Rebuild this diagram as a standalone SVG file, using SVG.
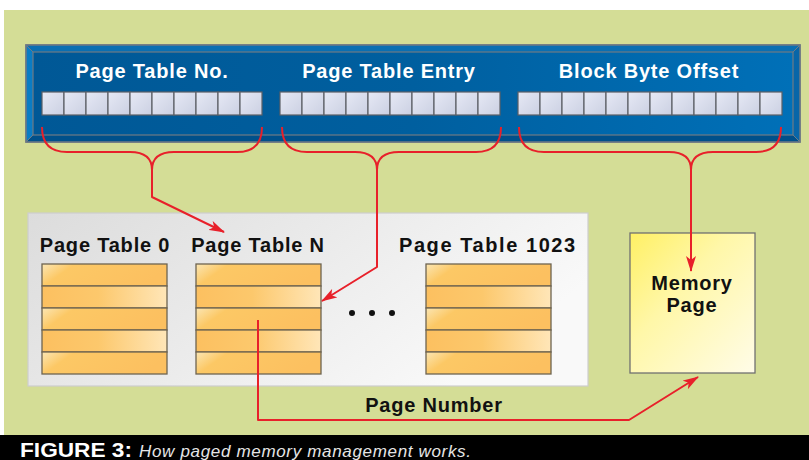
<svg xmlns="http://www.w3.org/2000/svg" width="809" height="460" viewBox="0 0 809 460">
  <defs>
    <style>
      .hdr { font-family: "Liberation Sans", Arial, sans-serif; font-weight: bold; font-size: 20px; fill: #ffffff; letter-spacing: 0.8px; }
      .lbl { font-family: "Liberation Sans", Arial, sans-serif; font-weight: bold; font-size: 20px; fill: #111111; letter-spacing: 0.8px; }
      .cell { fill: url(#cellGrad); stroke: #5c5f66; stroke-width: 1.2; }
      .rowA { fill: url(#rowAGrad); stroke: #6e6450; stroke-width: 1.3; }
      .rowB { fill: url(#rowBGrad); stroke: #6e6450; stroke-width: 1.3; }
      .wire { fill: none; stroke: #e8202a; stroke-width: 2; stroke-linejoin: round; }
      .arrow { fill: none; stroke: #e8202a; stroke-width: 2; stroke-linejoin: round; marker-end: url(#head); }
    </style>
    <linearGradient id="blueGrad" x1="0" y1="0" x2="1" y2="0">
      <stop offset="0" stop-color="#005896"/>
      <stop offset="0.5" stop-color="#005f9f"/>
      <stop offset="1" stop-color="#0070b8"/>
    </linearGradient>
    <linearGradient id="cellGrad" x1="0" y1="0" x2="1" y2="1">
      <stop offset="0" stop-color="#e6e9f5"/>
      <stop offset="1" stop-color="#cbd0e2"/>
    </linearGradient>
    <linearGradient id="rowAGrad" x1="0" y1="0" x2="1" y2="0.25">
      <stop offset="0" stop-color="#fbe6b4"/>
      <stop offset="0.25" stop-color="#fcc865"/>
      <stop offset="1" stop-color="#fcc060"/>
    </linearGradient>
    <linearGradient id="rowBGrad" x1="0" y1="0" x2="1" y2="0">
      <stop offset="0" stop-color="#fcc060"/>
      <stop offset="0.45" stop-color="#fcc86c"/>
      <stop offset="1" stop-color="#ffe6b8"/>
    </linearGradient>
    <linearGradient id="panelGrad" x1="0" y1="0" x2="1" y2="0.4">
      <stop offset="0" stop-color="#dcdcdc"/>
      <stop offset="1" stop-color="#f9f9f9"/>
    </linearGradient>
    <linearGradient id="memGrad" x1="0" y1="0" x2="1" y2="1">
      <stop offset="0" stop-color="#fff064"/>
      <stop offset="0.4" stop-color="#fff7a8"/>
      <stop offset="1" stop-color="#fffce8"/>
    </linearGradient>
    <marker id="head" viewBox="0 0 16 10" refX="15" refY="5" markerWidth="16" markerHeight="10" markerUnits="userSpaceOnUse" orient="auto">
      <path d="M0,0 L16,5 L0,10 L4,5 Z" fill="#e8202a"/>
    </marker>
  </defs>

  <!-- page background -->
  <rect x="0" y="0" width="809" height="460" fill="#ffffff"/>
  <rect x="4" y="10" width="805" height="426" fill="#d4dd96"/>

  <!-- address register -->
  <g id="address">
    <rect x="26" y="45" width="774" height="97" fill="#005a9a" stroke="#6f7a84" stroke-width="1.5"/>
    <polygon points="26,45 800,45 793,52 33,52" fill="#0a6fb2"/>
    <polygon points="26,45 33,52 33,135 26,142" fill="#0a7cc4"/>
    <polygon points="800,45 800,142 793,135 793,52" fill="#0866a8"/>
    <polygon points="26,142 33,135 793,135 800,142" fill="#00508a"/>
    <rect x="33" y="52" width="760" height="83" fill="url(#blueGrad)" stroke="#6f7a84" stroke-width="1.2"/>
    <line x1="26" y1="45" x2="33" y2="52" stroke="#6f7a84" stroke-width="1"/>
    <line x1="800" y1="45" x2="793" y2="52" stroke="#6f7a84" stroke-width="1"/>
    <line x1="26" y1="142" x2="33" y2="135" stroke="#6f7a84" stroke-width="1"/>
    <line x1="800" y1="142" x2="793" y2="135" stroke="#6f7a84" stroke-width="1"/>
    <rect x="26" y="45" width="774" height="97" fill="none" stroke="#6f7a84" stroke-width="1.5"/>

    <g id="field-ptno">
      <text class="hdr" x="152" y="78" text-anchor="middle">Page Table No.</text>
      <rect class="cell" x="42" y="92" width="22" height="23"/>
      <rect class="cell" x="64" y="92" width="22" height="23"/>
      <rect class="cell" x="86" y="92" width="22" height="23"/>
      <rect class="cell" x="108" y="92" width="22" height="23"/>
      <rect class="cell" x="130" y="92" width="22" height="23"/>
      <rect class="cell" x="152" y="92" width="22" height="23"/>
      <rect class="cell" x="174" y="92" width="22" height="23"/>
      <rect class="cell" x="196" y="92" width="22" height="23"/>
      <rect class="cell" x="218" y="92" width="22" height="23"/>
      <rect class="cell" x="240" y="92" width="22" height="23"/>
    </g>
    <g id="field-pte">
      <text class="hdr" x="389" y="78" text-anchor="middle">Page Table Entry</text>
      <rect class="cell" x="280" y="92" width="22" height="23"/>
      <rect class="cell" x="302" y="92" width="22" height="23"/>
      <rect class="cell" x="324" y="92" width="22" height="23"/>
      <rect class="cell" x="346" y="92" width="22" height="23"/>
      <rect class="cell" x="368" y="92" width="22" height="23"/>
      <rect class="cell" x="390" y="92" width="22" height="23"/>
      <rect class="cell" x="412" y="92" width="22" height="23"/>
      <rect class="cell" x="434" y="92" width="22" height="23"/>
      <rect class="cell" x="456" y="92" width="22" height="23"/>
      <rect class="cell" x="478" y="92" width="22" height="23"/>
    </g>
    <g id="field-offset">
      <text class="hdr" x="649" y="78" text-anchor="middle">Block Byte Offset</text>
      <rect class="cell" x="518" y="92" width="22" height="23"/>
      <rect class="cell" x="540" y="92" width="22" height="23"/>
      <rect class="cell" x="562" y="92" width="22" height="23"/>
      <rect class="cell" x="584" y="92" width="22" height="23"/>
      <rect class="cell" x="606" y="92" width="22" height="23"/>
      <rect class="cell" x="628" y="92" width="22" height="23"/>
      <rect class="cell" x="650" y="92" width="22" height="23"/>
      <rect class="cell" x="672" y="92" width="22" height="23"/>
      <rect class="cell" x="694" y="92" width="22" height="23"/>
      <rect class="cell" x="716" y="92" width="22" height="23"/>
      <rect class="cell" x="738" y="92" width="22" height="23"/>
      <rect class="cell" x="760" y="92" width="22" height="23"/>
    </g>
  </g>

  <!-- page table area -->
  <g id="tables">
    <rect x="28" y="213" width="560" height="173" fill="url(#panelGrad)" stroke="#cdcdcd" stroke-width="1.2"/>

    <g id="table-0">
      <text class="lbl" x="105" y="252" text-anchor="middle">Page Table 0</text>
      <rect class="rowA" x="42" y="264" width="125" height="22"/>
      <rect class="rowB" x="42" y="286" width="125" height="22"/>
      <rect class="rowA" x="42" y="308" width="125" height="22"/>
      <rect class="rowB" x="42" y="330" width="125" height="22"/>
      <rect class="rowA" x="42" y="352" width="125" height="22"/>
    </g>
    <g id="table-n">
      <text class="lbl" x="258" y="252" text-anchor="middle">Page Table N</text>
      <rect class="rowA" x="196" y="264" width="125" height="22"/>
      <rect class="rowB" x="196" y="286" width="125" height="22"/>
      <rect class="rowA" x="196" y="308" width="125" height="22"/>
      <rect class="rowB" x="196" y="330" width="125" height="22"/>
      <rect class="rowA" x="196" y="352" width="125" height="22"/>
    </g>
    <g id="ellipsis" fill="#111111">
      <circle cx="352" cy="313" r="3"/>
      <circle cx="372" cy="313" r="3"/>
      <circle cx="392" cy="313" r="3"/>
    </g>
    <g id="table-1023">
      <text class="lbl" x="399" y="252" textLength="177" lengthAdjust="spacing">Page Table 1023</text>
      <rect class="rowA" x="426" y="264" width="125" height="22"/>
      <rect class="rowB" x="426" y="286" width="125" height="22"/>
      <rect class="rowA" x="426" y="308" width="125" height="22"/>
      <rect class="rowB" x="426" y="330" width="125" height="22"/>
      <rect class="rowA" x="426" y="352" width="125" height="22"/>
    </g>
  </g>

  <!-- target page -->
  <g id="memory-page">
    <rect x="630" y="233" width="125" height="140" fill="url(#memGrad)" stroke="#707070" stroke-width="1.3"/>
    <text class="lbl" x="692" y="290" text-anchor="middle">Memory</text>
    <text class="lbl" x="692" y="312" text-anchor="middle">Page</text>
  </g>

  <!-- connectors -->
  <g id="connectors">
    <path class="wire" d="M42,127 Q42,152 67,152 L130,152 Q152,152 152,170 Q152,152 174,152 L237,152 Q262,152 262,127"/>
    <path class="arrow" d="M152,168 L152,197 L224,232"/>

    <path class="wire" d="M282,127 Q282,152 307,152 L355,152 Q377,152 377,170 Q377,152 399,152 L476,152 Q501,152 501,127"/>
    <path class="arrow" d="M377,168 L377,267 L322,301"/>

    <path class="wire" d="M519,127 Q519,152 544,152 L669,152 Q691,152 691,170 Q691,152 713,152 L756,152 Q781,152 781,127"/>
    <path class="arrow" d="M691,168 L691,271"/>

    <path class="arrow" d="M258,320 L258,420 L629,420 L698,377"/>
    <text class="lbl" x="434" y="412" text-anchor="middle">Page Number</text>
  </g>

  <!-- caption -->
  <g id="caption">
    <rect x="0" y="435" width="809" height="25" fill="#000000"/>
    <text x="20" y="457" font-family="'Liberation Sans', Arial, sans-serif" font-weight="900" font-size="20" fill="#ffffff" textLength="112" lengthAdjust="spacingAndGlyphs">FIGURE 3:</text>
    <text x="139" y="457" font-family="'Liberation Sans', Arial, sans-serif" font-style="italic" font-size="17" fill="#e6e6e6" textLength="332" lengthAdjust="spacing">How paged memory management works.</text>
  </g>
</svg>
